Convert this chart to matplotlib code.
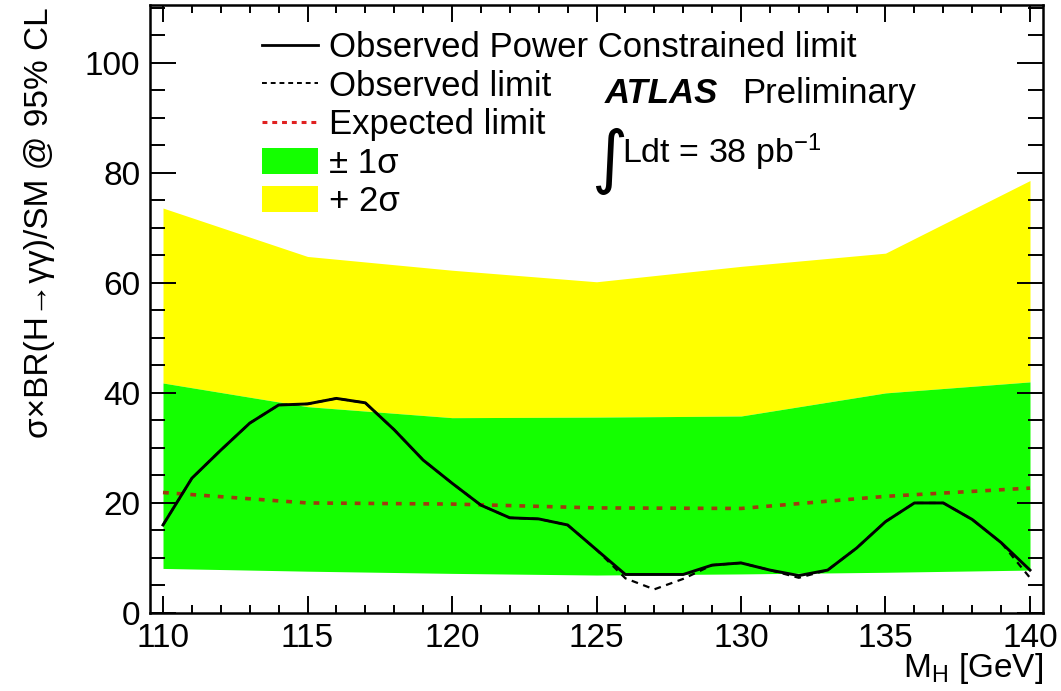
import matplotlib
matplotlib.use("Agg")
import matplotlib.pyplot as plt
from matplotlib.lines import Line2D
from matplotlib.patches import Patch
from matplotlib.ticker import MultipleLocator

plt.rcParams["font.family"] = ["Liberation Sans", "DejaVu Sans"]
plt.rcParams["mathtext.fontset"] = "custom"
plt.rcParams["mathtext.rm"] = "Liberation Sans"
plt.rcParams["mathtext.it"] = "Liberation Sans:italic"

# Higgs mass points for the observed limits (GeV)
mass = [110, 111, 112, 113, 114, 115, 116, 117, 118, 119, 120,
        121, 122, 123, 124, 125, 126, 127, 128, 129, 130,
        131, 132, 133, 134, 135, 136, 137, 138, 139, 140]
# observed power constrained limit
obs_pcl = [16.0, 24.5, 29.6, 34.5, 37.8, 38.0, 39.0, 38.2, 33.3, 27.8, 23.6,
           19.6, 17.3, 17.1, 16.0, 11.5, 7.0, 7.0, 7.0, 8.7, 9.1,
           7.8, 6.8, 7.8, 11.8, 16.6, 20.0, 20.0, 17.0, 12.8, 7.8]
# observed limit (differs from PCL only where it drops below -1 sigma)
obs = [16.0, 24.5, 29.6, 34.5, 37.8, 38.0, 39.0, 38.2, 33.3, 27.8, 23.6,
       19.6, 17.3, 17.1, 16.0, 11.5, 6.3, 4.3, 6.2, 8.7, 9.1,
       7.8, 6.4, 7.8, 11.8, 16.6, 20.0, 20.0, 17.0, 12.8, 6.4]

# expected limit and bands, computed at 5 GeV steps
mass_exp = [110, 115, 120, 125, 130, 135, 140]
expected = [21.9, 20.0, 19.8, 19.1, 19.0, 21.2, 22.7]
band1_lo = [8.1, 7.6, 7.2, 6.9, 7.1, 7.4, 7.8]
band1_hi = [41.8, 37.5, 35.5, 35.6, 35.8, 40.0, 42.0]
band2_hi = [73.6, 64.8, 62.3, 60.2, 63.0, 65.4, 78.6]

green = "#14ff00"
yellow = "#ffff00"

fig = plt.figure(figsize=(10.61, 6.91), dpi=100)
ax = fig.add_axes([150 / 1061, 1 - 613 / 691, 893 / 1061, 608 / 691])

ax.fill_between(mass_exp, band1_hi, band2_hi, color=yellow, lw=0)
ax.fill_between(mass_exp, band1_lo, band1_hi, color=green, lw=0)
ax.plot(mass_exp, expected, color="#a03a10", lw=2.6, ls=(0, (1.6, 2.2)))
ax.plot(mass, obs, color="black", lw=1.6, ls=(0, (3, 2.5)))
ax.plot(mass, obs_pcl, color="black", lw=2.1)

ax.set_xlim(109.55, 140.45)
ax.set_ylim(0, 110.5)
ax.set_xticks([110, 115, 120, 125, 130, 135, 140])
ax.set_yticks([0, 20, 40, 60, 80, 100])
ax.xaxis.set_minor_locator(MultipleLocator(1))
ax.yaxis.set_minor_locator(MultipleLocator(5))
ax.tick_params(which="both", direction="in", top=True, right=True,
               width=1.4, labelsize=24, colors="black")
ax.tick_params(axis="x", which="major", length=12, pad=7)
ax.tick_params(axis="x", which="minor", length=6)
ax.tick_params(axis="y", which="major", length=19, pad=7)
ax.tick_params(axis="y", which="minor", length=10.5)
for sp in ax.spines.values():
    sp.set_linewidth(1.8)

handles = [
    Line2D([], [], color="black", lw=2.0),
    Line2D([], [], color="black", lw=1.4, ls=(0, (2.5, 2))),
    Line2D([], [], color="#e02020", lw=2.2, ls=(0, (1.6, 1.6))),
    Patch(facecolor=green, edgecolor="none"),
    Patch(facecolor=yellow, edgecolor="none"),
]
labels = ["Observed Power Constrained limit", "Observed limit",
          "Expected limit", "± 1σ", "+ 2σ"]
ax.legend(handles, labels, loc="upper left", bbox_to_anchor=(0.1254, 0.957),
          frameon=False, fontsize=25, handlelength=1.6, handleheight=0.78,
          handletextpad=0.32, borderpad=0, borderaxespad=0, labelspacing=0.16)

ax.text(0.5095, 0.839, "ATLAS", transform=ax.transAxes, fontsize=25,
        fontweight="bold", fontstyle="italic", va="baseline")
ax.text(0.663, 0.839, "Preliminary", transform=ax.transAxes, fontsize=25,
        va="baseline")
ax.text(0.514, 0.742, "∫", transform=ax.transAxes, fontsize=50,
        ha="center", va="center", family=["DejaVu Sans"])
ax.text(0.5286, 0.740, r"Ldt = 38 pb$^{\mathregular{-1}}$",
        transform=ax.transAxes, fontsize=24.5, va="baseline")

ax.text(1.0, -0.105, r"M$_{\mathregular{H}}$ [GeV]", transform=ax.transAxes,
        fontsize=24, ha="right", va="baseline")
fig.text(40 / 1061, 1 - 7 / 691, "σ×BR(H→γγ)/SM @ 95% CL", rotation=90,
         ha="center", va="top", fontsize=24)

fig.savefig("out.png", dpi=100)
